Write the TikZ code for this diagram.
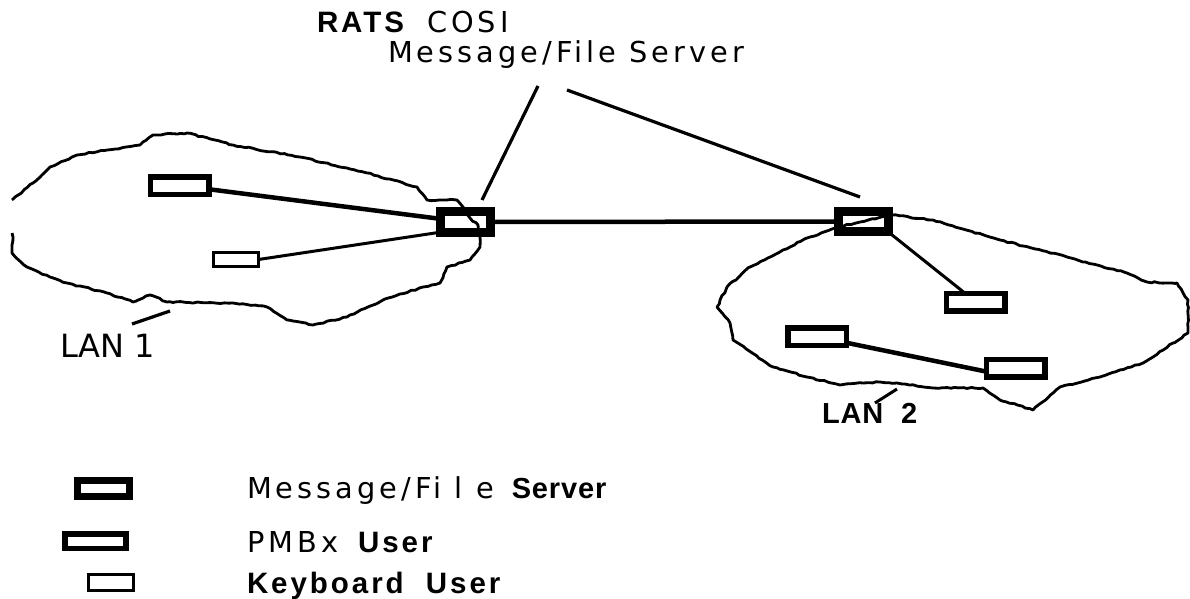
\documentclass[tikz,border=0pt]{standalone}
\usepackage{fontspec}
\usetikzlibrary{decorations.pathmorphing}
\newfontfamily\thinfont[LetterSpace=14]{DejaVu Sans}
\newfontfamily\plainfont{DejaVu Sans}
\newfontfamily\widebold[LetterSpace=10]{Liberation Sans}
\newfontfamily\tightbold[LetterSpace=3]{Liberation Sans}
\begin{document}
\begin{tikzpicture}[
    x=1pt, y=-1pt,
    every node/.style={inner sep=0pt, outer sep=0pt, anchor=base west},
    serverbox/.style={draw, anchor=center, line width=9pt, minimum width=50pt, minimum height=20.5pt},
    pmbxbox/.style={draw, anchor=center, line width=5.5pt, minimum width=58.5pt, minimum height=17.5pt},
    kbdbox/.style={draw, anchor=center, line width=3pt, minimum width=45pt, minimum height=14pt},
    lanline/.style={line width=2.8pt, line join=round,
        decorate, decoration={random steps, segment length=4pt, amplitude=0.7pt}},
    wire/.style={line width=4.5pt},
    kbdwire/.style={line width=3pt},
    pointer/.style={line width=3.2pt},
    msgtext/.style={font=\thinfont\fontsize{28.8}{32}\selectfont},
    lantext/.style={font=\plainfont\fontsize{32}{34}\selectfont},
    widetext/.style={font=\widebold\bfseries\fontsize{29.5}{32}\selectfont},
    tighttext/.style={font=\tightbold\bfseries\fontsize{29}{32}\selectfont}
]
    \useasboundingbox (0,0) rectangle (1190,599);

    % LAN 1 outline
    \draw[lanline] (12,200) -- (33,183) -- (50,167) -- (77,155) -- (107,150)
        -- (140,145) -- (153,135) -- (187,133) -- (233,145) -- (300,157)
        -- (367,173) -- (417,187) -- (427,200) -- (457,200) -- (463,207)
        -- (470,218) -- (478,225) -- (480,237) -- (480,247) -- (470,260)
        -- (447,267) -- (440,283) -- (423,287) -- (383,300) -- (347,317)
        -- (313,325) -- (287,320) -- (267,307) -- (233,303) -- (167,302)
        -- (150,295) -- (133,302) -- (107,293) -- (67,283) -- (50,277)
        -- (27,267) -- (12,253) -- (13,237) -- (12,233);

    % LAN 2 outline
    \draw[lanline] (892,215) -- (933,220) -- (1000,240) -- (1067,257)
        -- (1127,273) -- (1147,282) -- (1177,283) -- (1188,300) -- (1188,333)
        -- (1173,343) -- (1153,357) -- (1143,363) -- (1100,377) -- (1060,387)
        -- (1033,410) -- (1000,400) -- (983,388) -- (933,388) -- (897,383)
        -- (880,382) -- (863,383) -- (840,385) -- (807,377) -- (773,367)
        -- (733,340) -- (730,323) -- (717,307) -- (727,287) -- (750,267)
        -- (783,250) -- (810,237) -- (835,228) -- (860,222) -- cycle;

    % servers and users
    \node[serverbox] (s1) at (465,222) {};
    \node[serverbox] (s2) at (863,221.5) {};
    \node[pmbxbox] (u1) at (179.5,185.5) {};
    \node[kbdbox] (k1) at (236,259.5) {};
    \node[pmbxbox] (u2a) at (975.5,302) {};
    \node[pmbxbox] (u2b) at (817,336.5) {};
    \node[pmbxbox] (u2c) at (1015.5,368) {};

    \draw[wire] (s1.east) -- (s2.west);
    \draw[wire] (u1) -- (s1);
    \draw[kbdwire] (k1.east) -- (s1.south west);
    \draw[kbdwire] (s2.south east) -- (u2a.140);
    \draw[wire] (u2b.-12) -- (u2c.187);

    % labels
    \node[widetext] (rats) at (317,33) {RATS};
    \node[msgtext] (cosi) at (427,33) {COSI};
    \node[msgtext] (msg) at (388,63) {Message/File Server};
    \coordinate (lead1a) at (538,86);
    \coordinate (lead1b) at (482,200);
    \coordinate (lead2a) at (567,90);
    \coordinate (lead2b) at (860,197);
    \draw[pointer] (lead1a) -- (lead1b);
    \draw[pointer] (lead2a) -- (lead2b);

    \node[lantext] (lan1) at (60,357) {LAN 1};
    \coordinate (lan1a) at (132,324);
    \coordinate (lan1b) at (170,311);
    \draw[pointer] (lan1a) -- (lan1b);

    \node[tighttext] (lan2) at (822,423) {LAN\ \ 2};
    \coordinate (lan2a) at (875,403);
    \coordinate (lan2b) at (897,389);
    \draw[kbdwire] (lan2a) -- (lan2b);

    % legend
    \node[serverbox, line width=7pt, minimum width=52pt, minimum height=16pt] (keyserver) at (103.5,488.5) {};
    \node[pmbxbox, minimum width=61pt, minimum height=14.5pt] (keypmbx) at (95.5,541) {};
    \node[kbdbox, minimum height=16pt] (keykbd) at (111,582.5) {};

    \node[msgtext] (key1a) at (247,498) {Message/Fi l e};
    \node[tighttext] (key1b) at ([xshift=18pt]key1a.base east) {Server};
    \node[msgtext] (key2a) at (247,552) {PMBx};
    \node[widetext] (key2b) at ([xshift=20pt]key2a.base east) {User};
    \node[widetext] (key3) at (247,593) {Keyboard\ \ User};
\end{tikzpicture}
\end{document}
